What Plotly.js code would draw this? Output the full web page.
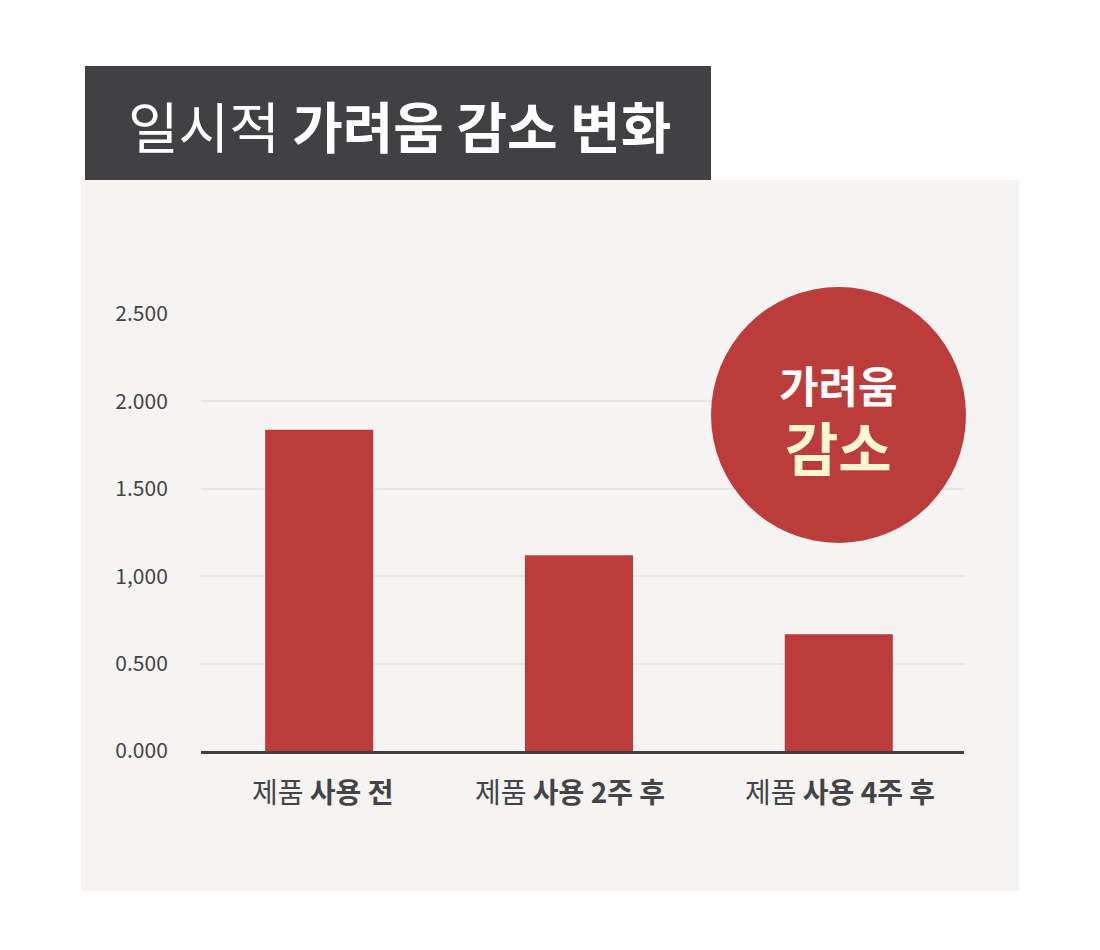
<!DOCTYPE html>
<html>
<head>
<meta charset="utf-8">
<script src="https://cdn.plot.ly/plotly-3.0.1.min.js"></script>
<style>html,body{margin:0;padding:0;background:#fff;}#chart{width:1100px;height:950px;}</style>
</head>
<body>
<div id="chart"></div>
<script>
// Data
const categories = ["제품 사용 전", "제품 사용 2주 후", "제품 사용 4주 후"];
const categoryLabels = ["제품 <b>사용 전</b>", "제품 <b>사용 2주 후</b>", "제품 <b>사용 4주 후</b>"];
const itchValues = [1.838, 1.119, 0.668];
const yTickVals = [0, 0.5, 1.0, 1.5, 2.0, 2.5];
const yTickText = ["0.000", "0.500", "1,000", "1.500", "2.000", "2.500"];
const titlePlain = "일시적";
const titleBold = "가려움 감소 변화";
const badgeTop = "가려움";
const badgeBottom = "감소";

const FONT = '"Noto Sans CJK KR", "Noto Sans", sans-serif';

// Plot area geometry in pixels (for converting to paper coords)
const L = 201, R = 964, T = 313, B = 751;
const W = R - L, H = B - T;
const px = v => (v - L) / W;
const py = v => (B - v) / H;
const labelShift = [3, -9, 1];

const trace = {
  type: 'bar',
  x: categories,
  y: itchValues,
  width: 0.416,
  marker: {color: '#bc3c3c', line: {width: 0}},
  hoverinfo: 'skip'
};

const xLabelAnns = categories.map((c, i) => ({
  xref: 'x', yref: 'paper', x: c, y: py(791), xanchor: 'center', yanchor: 'middle',
  xshift: labelShift[i], showarrow: false, text: categoryLabels[i],
  font: {family: FONT, size: 28, color: '#444446'}
}));

const layout = {
  width: 1100, height: 950,
  margin: {l: L, r: 1100 - R, t: T, b: 950 - B, pad: 0},
  paper_bgcolor: '#ffffff',
  plot_bgcolor: 'rgba(0,0,0,0)',
  showlegend: false,
  font: {family: FONT, color: '#444446'},
  xaxis: {
    type: 'category',
    range: [-0.455, 2.482],
    showgrid: false,
    zeroline: false,
    showline: true,
    linecolor: '#404042',
    linewidth: 3,
    ticks: '',
    showticklabels: false,
    fixedrange: true
  },
  yaxis: {
    range: [0, 2.505],
    tickvals: yTickVals,
    ticktext: yTickText,
    showgrid: true,
    gridcolor: '#e6e5e3',
    gridwidth: 2,
    zeroline: false,
    showline: false,
    ticks: 'outside',
    ticklen: 28,
    tickcolor: 'rgba(0,0,0,0)',
    tickfont: {family: FONT, size: 21, color: '#444446'},
    fixedrange: true
  },
  shapes: [
    // light panel
    {type: 'rect', xref: 'paper', yref: 'paper', layer: 'below',
     x0: px(81), x1: px(1019), y0: py(891), y1: py(180),
     fillcolor: '#f5f4f2', line: {width: 0}},
    // dark title box
    {type: 'rect', xref: 'paper', yref: 'paper', layer: 'below',
     x0: px(85), x1: px(711), y0: py(180), y1: py(66),
     fillcolor: '#414143', line: {width: 0}},
    // badge circle
    {type: 'circle', xref: 'paper', yref: 'paper', layer: 'above',
     x0: px(711), x1: px(966), y0: py(543), y1: py(287),
     fillcolor: '#bc3c3c', line: {width: 0}}
  ],
  annotations: [
    {xref: 'paper', yref: 'paper', x: px(126), y: py(124), xanchor: 'left', yanchor: 'middle',
     showarrow: false, text: titlePlain + ' <b>' + titleBold + '</b>',
     font: {family: FONT, size: 55, color: '#ffffff'}},
    {xref: 'paper', yref: 'paper', x: px(838), y: py(420.5), xanchor: 'center', yanchor: 'middle',
     showarrow: false,
     text: '<span style="font-size:43px"><b>' + badgeTop + '</b></span><br>' +
           '<span style="font-size:58px;fill:#fff7d2"><b>' + badgeBottom + '</b></span>',
     font: {family: FONT, size: 52, color: '#ffffff'}}
  ].concat(xLabelAnns)
};

Plotly.newPlot('chart', [trace], layout, {displayModeBar: false, staticPlot: true});
</script>
</body>
</html>
